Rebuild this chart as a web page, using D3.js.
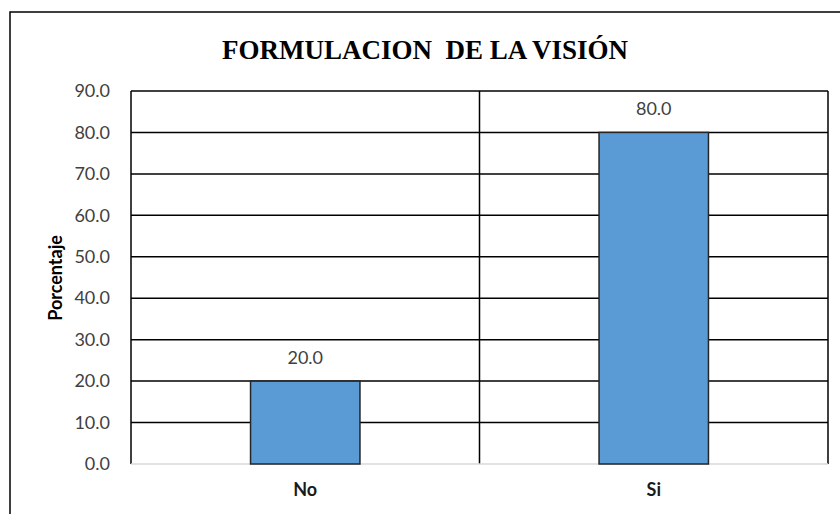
<!DOCTYPE html>
<html>
<head>
<meta charset="utf-8">
<script src="https://cdn.jsdelivr.net/npm/d3@7"></script>
<style>
  body { margin: 0; background: #fff; }
  svg { display: block; }
</style>
</head>
<body>
<div id="chart"></div>
<script>
var categories = ["No", "Si"];
var values = [20.0, 80.0];
var yTicks = [0, 10, 20, 30, 40, 50, 60, 70, 80, 90];

var width = 840, height = 514;
var margin = { top: 91, right: 12, bottom: 50, left: 131 };
var plotW = 828 - margin.left, plotH = 464 - margin.top;
var labelFont = 'Lato, "Open Sans", sans-serif';

var svg = d3.select('#chart').append('svg').attr('width', width).attr('height', height);

// outer frame
svg.append('rect')
    .attr('x', 10).attr('y', 12)
    .attr('width', 840).attr('height', 520)
    .attr('fill', 'none').attr('stroke', '#000').attr('stroke-width', 1.5);

svg.append('text')
    .attr('x', 425).attr('y', 59)
    .attr('text-anchor', 'middle')
    .attr('xml:space', 'preserve')
    .style('font-family', '"Liberation Serif", "Times New Roman", serif')
    .style('font-weight', 'bold')
    .style('font-size', '27px')
    .text('FORMULACION  DE LA VISIÓN');

var g = svg.append('g').attr('transform', 'translate(' + margin.left + ',' + margin.top + ')');

var x = d3.scaleBand().domain(categories).range([0, plotW]).paddingInner(0).paddingOuter(0);
var y = d3.scaleLinear().domain([0, 90]).range([plotH, 0]);
var barW = x.bandwidth() * 0.314;

// horizontal gridlines
g.selectAll('line.grid')
    .data(yTicks.filter(function(d) { return d > 0; }))
    .enter().append('line')
    .attr('class', 'grid')
    .attr('x1', 0).attr('x2', plotW)
    .attr('y1', function(d) { return y(d); })
    .attr('y2', function(d) { return y(d); })
    .attr('stroke', '#000').attr('stroke-width', 1.5);

// vertical lines at band edges
var edges = [0].concat(categories.map(function(c) { return x(c) + x.bandwidth(); }));
g.selectAll('line.vgrid')
    .data(edges)
    .enter().append('line')
    .attr('class', 'vgrid')
    .attr('x1', function(d) { return d; }).attr('x2', function(d) { return d; })
    .attr('y1', 0).attr('y2', plotH)
    .attr('stroke', '#000').attr('stroke-width', 1.5);

// baseline
g.append('line')
    .attr('x1', 0).attr('x2', plotW)
    .attr('y1', y(0)).attr('y2', y(0))
    .attr('stroke', '#d9d9d9').attr('stroke-width', 1.5);

// bars
g.selectAll('rect.bar')
    .data(values)
    .enter().append('rect')
    .attr('class', 'bar')
    .attr('x', function(d, i) { return x(categories[i]) + x.bandwidth() / 2 - barW / 2; })
    .attr('y', function(d) { return y(d); })
    .attr('width', barW)
    .attr('height', function(d) { return y(0) - y(d); })
    .attr('fill', '#5b9bd5')
    .attr('stroke', '#262626').attr('stroke-width', 1.5);

// value labels
g.selectAll('text.val')
    .data(values)
    .enter().append('text')
    .attr('class', 'val')
    .attr('x', function(d, i) { return x(categories[i]) + x.bandwidth() / 2; })
    .attr('y', function(d) { return y(d) - 17; })
    .attr('text-anchor', 'middle')
    .style('font-family', labelFont)
    .style('font-size', '18px')
    .attr('fill', '#404040')
    .text(function(d) { return d.toFixed(1); });

// y axis
var yAxis = d3.axisLeft(y).tickValues(yTicks).tickSize(0).tickPadding(21)
    .tickFormat(function(d) { return d.toFixed(1); });
var ya = g.append('g').call(yAxis);
ya.select('.domain').remove();
ya.selectAll('text')
    .style('font-family', labelFont)
    .style('font-size', '18px')
    .attr('fill', '#404040');

// x axis
var xAxis = d3.axisBottom(x).tickSize(0).tickPadding(19);
var xa = g.append('g').attr('transform', 'translate(0,' + plotH + ')').call(xAxis);
xa.select('.domain').remove();
xa.selectAll('text')
    .style('font-family', labelFont)
    .style('font-size', '18px')
    .style('font-weight', 'bold')
    .attr('fill', '#1a1a1a');

svg.append('text')
    .attr('transform', 'translate(62,278) rotate(-90)')
    .attr('text-anchor', 'middle')
    .style('font-family', labelFont)
    .style('font-size', '18px')
    .style('font-weight', 'bold')
    .attr('fill', '#000')
    .text('Porcentaje');
</script>
</body>
</html>
